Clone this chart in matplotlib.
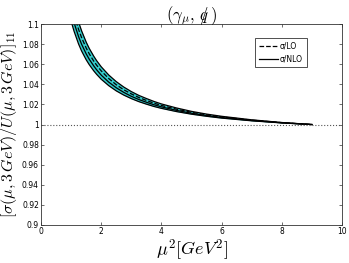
import matplotlib
matplotlib.use('Agg')
import matplotlib.pyplot as plt

plt.rcParams['mathtext.fontset'] = 'cm'
plt.rcParams['font.family'] = 'DejaVu Sans'

# ratio sigma/U vs mu^2
mu2 = [1.0, 1.05, 1.1, 1.25, 1.35, 1.5, 1.6, 1.75, 1.85, 2.0, 2.25, 2.5, 2.75, 3.0,
       3.25, 3.5, 3.75, 4.0, 4.5, 5.0, 5.5, 6.0, 7.0, 8.0, 9.0]
band_hi = [1.1314, 1.1243, 1.1179, 1.1018, 1.0931, 1.0821, 1.0759, 1.0681, 1.0635,
           1.0575, 1.0493, 1.0427, 1.0373, 1.0328, 1.0290, 1.0259, 1.0230, 1.0205,
           1.0165, 1.0131, 1.0104, 1.0082, 1.0047, 1.0020, 1.0]
band_lo = [1.1032, 1.0977, 1.0927, 1.0800, 1.0731, 1.0645, 1.0597, 1.0535, 1.0499,
           1.0451, 1.0387, 1.0335, 1.0293, 1.0258, 1.0228, 1.0203, 1.0180, 1.0161,
           1.0129, 1.0103, 1.0082, 1.0064, 1.0037, 1.0016, 1.0]
ratio_lo = [1.1220, 1.1154, 1.1095, 1.0945, 1.0864, 1.0762, 1.0705, 1.0632, 1.0590,
            1.0534, 1.0458, 1.0396, 1.0346, 1.0305, 1.0269, 1.0240, 1.0213, 1.0190,
            1.0153, 1.0122, 1.0097, 1.0076, 1.0044, 1.0019, 1.0]
ratio_nlo = [1.1126, 1.1066, 1.1011, 1.0873, 1.0798, 1.0704, 1.0651, 1.0584, 1.0544,
             1.0492, 1.0422, 1.0366, 1.0320, 1.0281, 1.0249, 1.0222, 1.0197, 1.0176,
             1.0141, 1.0112, 1.0089, 1.0070, 1.0040, 1.0017, 1.0]

xticks = [0, 2, 4, 6, 8, 10]
yticks = [0.9, 0.92, 0.94, 0.96, 0.98, 1.0, 1.02, 1.04, 1.06, 1.08, 1.1]
ytick_labels = ['0.9', '0.92', '0.94', '0.96', '0.98', '1', '1.02', '1.04', '1.06', '1.08', '1.1']

fig = plt.figure(figsize=(3.49, 2.63), dpi=100)
ax = fig.add_axes([0.1175, 0.1445, 0.8625, 0.764])

ax.fill_between(mu2, band_lo, band_hi, color='#33cccc', lw=0)
ax.plot(mu2, band_hi, color='k', lw=0.9)
ax.plot(mu2, band_lo, color='k', lw=0.9)
ax.plot(mu2, ratio_lo, 'k--', lw=0.9, label=r'σ/LO')
ax.plot(mu2, ratio_nlo, 'k-', lw=0.9, label=r'σ/NLO')
ax.plot([0, 10], [1, 1], ':', color='#555555', lw=0.8)

ax.set_xlim(0, 10)
ax.set_ylim(0.9, 1.1)
ax.set_xticks(xticks)
ax.set_xticklabels([str(t) for t in xticks])
ax.set_yticks(yticks)
ax.set_yticklabels(ytick_labels)
ax.tick_params(direction='in', length=2.5, width=0.5, labelsize=5.5, pad=1.5,
               top=True, right=True, colors='#333333', labelcolor='k')
for s in ax.spines.values():
    s.set_linewidth(0.6)
    s.set_color('#333333')

ax.set_title(r'$(\gamma_\mu,\, q\!\!\!/\,)$', fontsize=12, pad=3)
ax.set_xlabel(r'$\mu^2[GeV^2]$', fontsize=13, labelpad=1)
ax.set_ylabel(r'$[\sigma(\mu,3\,GeV)/U(\mu,3\,GeV)]_{11}$', fontsize=11.5, labelpad=2)

leg = ax.legend(loc='upper right', bbox_to_anchor=(0.895, 0.95), fontsize=5.5,
                handlelength=2.5, handletextpad=0.2, borderpad=0.5,
                fancybox=False, framealpha=1, edgecolor='#333333')
leg.get_frame().set_linewidth(0.6)

fig.savefig('out.png', dpi=100)
